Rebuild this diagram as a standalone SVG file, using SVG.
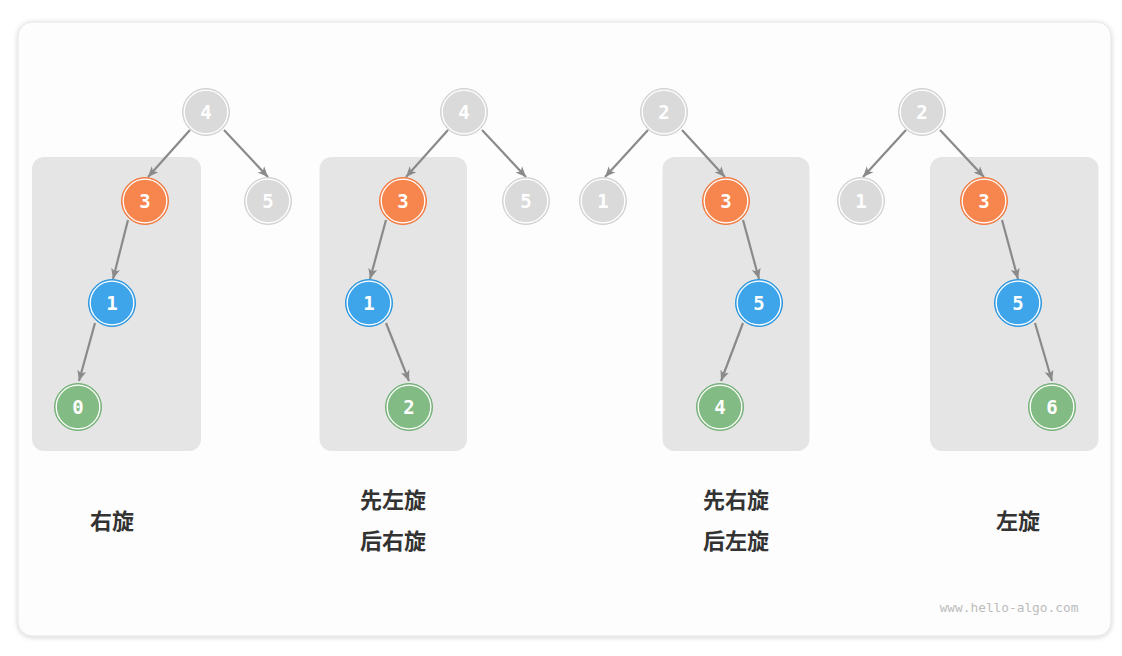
<svg xmlns="http://www.w3.org/2000/svg" width="1122" height="656" viewBox="0 0 1122 656">
<style>
.panel{fill:#e5e5e5}
.edge{stroke:#8a8a8a;stroke-width:2.2;fill:none;marker-end:url(#arr)}
.ring{fill:none;stroke:#ffffff;stroke-width:1.3}
.gray{fill:#dadada;stroke:#d2d2d2;stroke-width:1}
.orange{fill:#f7854e;stroke:#f07a42;stroke-width:1}
.blue{fill:#3ea5ea;stroke:#2d95dd;stroke-width:1}
.green{fill:#83bb84;stroke:#74b077;stroke-width:1}
.num{font-family:"DejaVu Sans Mono","Liberation Mono",monospace;font-size:19px;font-weight:bold;fill:#ffffff;text-anchor:middle}
.lbl{font-family:"Noto Sans CJK SC","Noto Sans",sans-serif;font-size:22px;font-weight:bold;fill:#333333;text-anchor:middle}
.wm{font-family:"DejaVu Sans Mono","Liberation Mono",monospace;font-size:12.8px;fill:#bcbcbc;text-anchor:middle}
</style>
<defs>
<filter id="sh" x="-5%" y="-5%" width="110%" height="110%">
<feDropShadow dx="0" dy="1" stdDeviation="2.5" flood-color="#000000" flood-opacity="0.18"/>
</filter>
<marker id="arr" markerUnits="userSpaceOnUse" markerWidth="11" markerHeight="10" refX="10.5" refY="5" orient="auto">
<path d="M0,0.5 L10.5,5 L0,9.5 L2.8,5 z" fill="#8a8a8a"/>
</marker>
</defs>
<rect x="0" y="0" width="1122" height="656" fill="#ffffff"/>
<rect id="frame" x="18" y="22" width="1093" height="614" rx="14" fill="#fdfdfd" stroke="#e4e4e4" stroke-width="1" filter="url(#sh)"/>

<rect class="panel" x="32" y="157" width="169" height="294" rx="12"/>
<rect class="panel" x="319.5" y="157" width="147.5" height="294" rx="12"/>
<rect class="panel" x="662.5" y="157" width="147" height="294" rx="12"/>
<rect class="panel" x="930" y="157" width="168.5" height="294" rx="12"/>

<g id="connectors">
<line class="edge" x1="190" y1="130" x2="148" y2="177"/>
<line class="edge" x1="224" y1="130" x2="268" y2="177"/>
<line class="edge" x1="128" y1="220" x2="113" y2="279"/>
<line class="edge" x1="95" y1="323" x2="79" y2="381"/>

<line class="edge" x1="448" y1="130" x2="406" y2="177"/>
<line class="edge" x1="482" y1="130" x2="526" y2="177"/>
<line class="edge" x1="386" y1="220" x2="370" y2="279"/>
<line class="edge" x1="386" y1="323" x2="409" y2="381"/>

<line class="edge" x1="648" y1="130" x2="605" y2="177"/>
<line class="edge" x1="682" y1="130" x2="725" y2="177"/>
<line class="edge" x1="743" y1="220" x2="759" y2="279"/>
<line class="edge" x1="743" y1="323" x2="721" y2="381"/>

<line class="edge" x1="906" y1="130" x2="863" y2="177"/>
<line class="edge" x1="940" y1="130" x2="984" y2="177"/>
<line class="edge" x1="1002" y1="220" x2="1018" y2="279"/>
<line class="edge" x1="1035" y1="323" x2="1052" y2="381"/>
</g>

<g id="a4"><circle class="gray" cx="206" cy="112" r="23.5"/><circle class="ring" cx="206" cy="112" r="21.8"/><text class="num" x="206" y="119">4</text></g>
<g id="a3"><circle class="orange" cx="145" cy="201" r="23.5"/><circle class="ring" cx="145" cy="201" r="21.8"/><text class="num" x="145" y="208">3</text></g>
<g id="a5"><circle class="gray" cx="268" cy="201" r="23.5"/><circle class="ring" cx="268" cy="201" r="21.8"/><text class="num" x="268" y="208">5</text></g>
<g id="a1"><circle class="blue" cx="112" cy="303" r="23.5"/><circle class="ring" cx="112" cy="303" r="21.8"/><text class="num" x="112" y="310">1</text></g>
<g id="a0"><circle class="green" cx="78" cy="407" r="23.5"/><circle class="ring" cx="78" cy="407" r="21.8"/><text class="num" x="78" y="414">0</text></g>

<g id="b4"><circle class="gray" cx="464" cy="112" r="23.5"/><circle class="ring" cx="464" cy="112" r="21.8"/><text class="num" x="464" y="119">4</text></g>
<g id="b3"><circle class="orange" cx="403" cy="201" r="23.5"/><circle class="ring" cx="403" cy="201" r="21.8"/><text class="num" x="403" y="208">3</text></g>
<g id="b5"><circle class="gray" cx="526" cy="201" r="23.5"/><circle class="ring" cx="526" cy="201" r="21.8"/><text class="num" x="526" y="208">5</text></g>
<g id="b1"><circle class="blue" cx="369" cy="303" r="23.5"/><circle class="ring" cx="369" cy="303" r="21.8"/><text class="num" x="369" y="310">1</text></g>
<g id="b2"><circle class="green" cx="409" cy="407" r="23.5"/><circle class="ring" cx="409" cy="407" r="21.8"/><text class="num" x="409" y="414">2</text></g>

<g id="c2"><circle class="gray" cx="664" cy="112" r="23.5"/><circle class="ring" cx="664" cy="112" r="21.8"/><text class="num" x="664" y="119">2</text></g>
<g id="c1"><circle class="gray" cx="603" cy="201" r="23.5"/><circle class="ring" cx="603" cy="201" r="21.8"/><text class="num" x="603" y="208">1</text></g>
<g id="c3"><circle class="orange" cx="726" cy="201" r="23.5"/><circle class="ring" cx="726" cy="201" r="21.8"/><text class="num" x="726" y="208">3</text></g>
<g id="c5"><circle class="blue" cx="759" cy="303" r="23.5"/><circle class="ring" cx="759" cy="303" r="21.8"/><text class="num" x="759" y="310">5</text></g>
<g id="c4"><circle class="green" cx="720" cy="407" r="23.5"/><circle class="ring" cx="720" cy="407" r="21.8"/><text class="num" x="720" y="414">4</text></g>

<g id="d2"><circle class="gray" cx="922" cy="112" r="23.5"/><circle class="ring" cx="922" cy="112" r="21.8"/><text class="num" x="922" y="119">2</text></g>
<g id="d1"><circle class="gray" cx="861" cy="201" r="23.5"/><circle class="ring" cx="861" cy="201" r="21.8"/><text class="num" x="861" y="208">1</text></g>
<g id="d3"><circle class="orange" cx="984" cy="201" r="23.5"/><circle class="ring" cx="984" cy="201" r="21.8"/><text class="num" x="984" y="208">3</text></g>
<g id="d5"><circle class="blue" cx="1018" cy="303" r="23.5"/><circle class="ring" cx="1018" cy="303" r="21.8"/><text class="num" x="1018" y="310">5</text></g>
<g id="d6"><circle class="green" cx="1052" cy="407" r="23.5"/><circle class="ring" cx="1052" cy="407" r="21.8"/><text class="num" x="1052" y="414">6</text></g>

<g id="labels">
<text class="lbl" x="112" y="529">右旋</text>
<text class="lbl" x="393" y="508">先左旋</text>
<text class="lbl" x="393" y="549">后右旋</text>
<text class="lbl" x="736" y="508">先右旋</text>
<text class="lbl" x="736" y="549">后左旋</text>
<text class="lbl" x="1018" y="529">左旋</text>
</g>
<text class="wm" x="1009" y="612">www.hello-algo.com</text>
</svg>
